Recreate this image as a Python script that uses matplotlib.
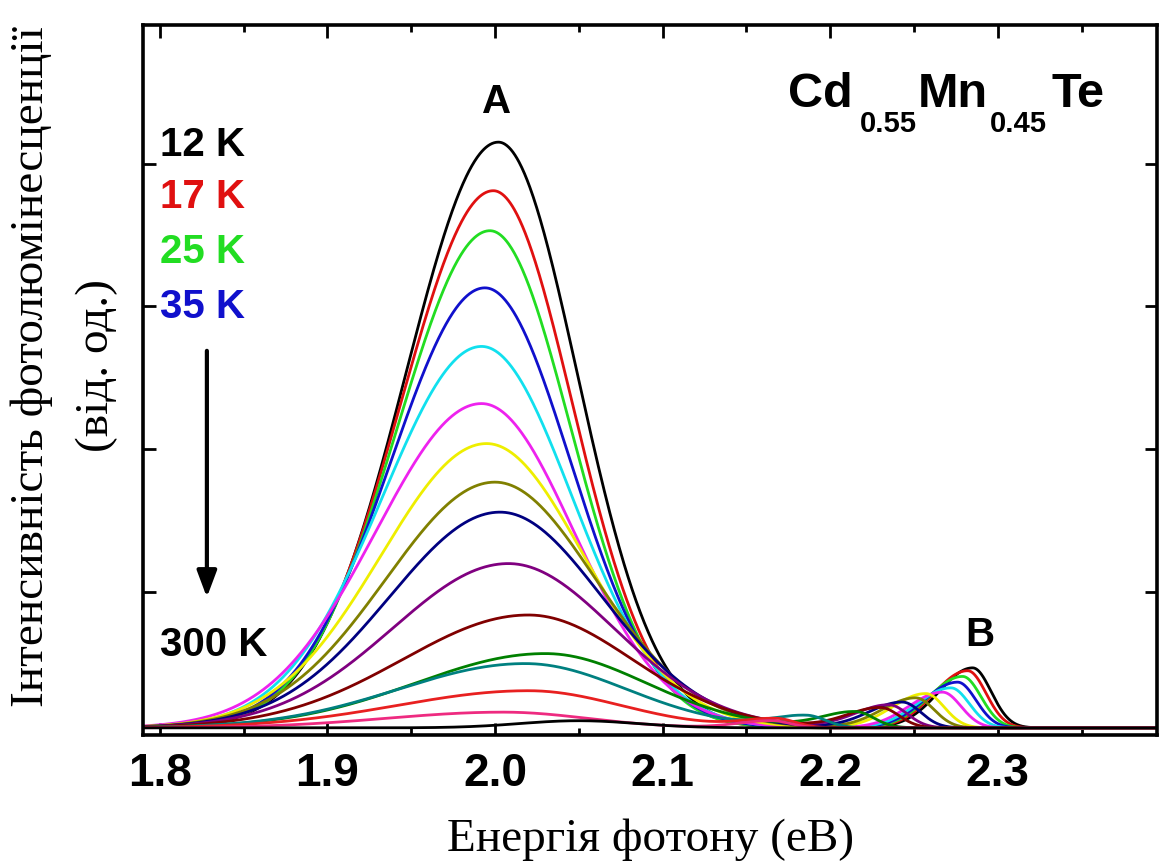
import numpy as np
import matplotlib.pyplot as plt

# PL spectra of Cd0.55Mn0.45Te, 12 K (first) ... 300 K (last)
temps = ['12 K', '17 K', '25 K', '35 K', '', '', '', '', '', '', '', '', '', '', '', '300 K']

# band A: position (eV), amplitude (a.u.), low/high energy half-widths (eV)
a_center = [2.002, 1.999, 1.997, 1.994, 1.992, 1.992, 1.995, 2.000, 2.003, 2.008,
            2.020, 2.030, 2.018, 2.020, 2.005, 2.050]
a_height = [4.10, 3.76, 3.48, 3.08, 2.67, 2.27, 1.99, 1.72, 1.51, 1.15,
            0.79, 0.52, 0.45, 0.26, 0.11, 0.05]
a_wlo = [0.055, 0.055, 0.055, 0.056, 0.059, 0.063, 0.063, 0.065, 0.066, 0.069,
         0.075, 0.077, 0.075, 0.078, 0.070, 0.035]
a_whi = [0.047, 0.047, 0.048, 0.051, 0.054, 0.055, 0.058, 0.060, 0.061, 0.063,
         0.062, 0.060, 0.060, 0.055, 0.050, 0.035]

# band B
b_center = [2.285, 2.282, 2.279, 2.276, 2.272, 2.267, 2.257, 2.251, 2.243, 2.235,
            2.230, 2.215, 2.186, 2.168, 2.165, 2.200]
b_height = [0.42, 0.40, 0.36, 0.32, 0.28, 0.25, 0.24, 0.21, 0.18, 0.16,
            0.14, 0.11, 0.08, 0.06, 0.05, 0.00]

offset = 0.05

colors = ['#000000', '#e01010', '#22dd22', '#1010cc', '#11e0ee', '#ee22ee',
          '#eeee00', '#808000', '#000080', '#800080', '#800000', '#008000',
          '#008080', '#e82020', '#ee2a80', '#000000']


def band(e, c, h, wl, wr):
    w = np.where(e < c, wl, wr)
    return h * np.exp(-0.5 * ((e - c) / w) ** 2)


energy = np.linspace(1.79, 2.395, 1500)

fig = plt.figure(figsize=(11.63, 8.65), dpi=100)
ax = fig.add_axes([143 / 1163, 1 - 735 / 865, 1014 / 1163, 710 / 865])

for i in range(len(a_center)):
    spec = (offset
            + band(energy, a_center[i], a_height[i], a_wlo[i], a_whi[i])
            + band(energy, b_center[i], b_height[i], 0.02, 0.011))
    ax.plot(energy, spec, color=colors[i], lw=2.0)

ax.set_xlim(1.79, 2.395)
ax.set_ylim(0, 4.97)
ax.set_xticks([1.8, 1.9, 2.0, 2.1, 2.2, 2.3])
ax.set_xticklabels(['1.8', '1.9', '2.0', '2.1', '2.2', '2.3'])
ax.set_xticks(np.arange(1.85, 2.39, 0.1), minor=True)
ax.set_yticks([1, 2, 3, 4])
ax.set_yticklabels([])
ax.tick_params(which='both', direction='in', top=True, right=True, width=2)
ax.tick_params(which='major', length=9, pad=12)
ax.tick_params(which='minor', length=5)
for lab in ax.get_xticklabels():
    lab.set_fontfamily('Liberation Sans')
    lab.set_fontweight('bold')
    lab.set_fontsize(33)
for s in ax.spines.values():
    s.set_linewidth(2.6)

bold = dict(family='Liberation Sans', weight='bold', fontsize=29)
ys = [0.831, 0.758, 0.680, 0.603]
for k in range(4):
    ax.text(0.017, ys[k], temps[k], color=colors[k], transform=ax.transAxes,
            va='center', ha='left', **bold)
ax.text(0.017, 0.127, temps[-1], color='black', transform=ax.transAxes,
        va='center', ha='left', **bold)
ax.annotate('', xy=(0.063, 0.19), xytext=(0.063, 0.545), xycoords='axes fraction',
            arrowprops=dict(arrowstyle='-|>,head_width=0.6,head_length=1.6',
                            color='black', lw=3))

ax.text(0.349, 0.892, 'A', transform=ax.transAxes, ha='center', va='center', **bold)
ax.text(0.825, 0.141, 'B', transform=ax.transAxes, ha='center', va='center', **bold)

# chemical formula, subscripts set below the baseline
big = dict(family='Liberation Sans', weight='bold', fontsize=35)
small = dict(family='Liberation Sans', weight='bold', fontsize=21)
t1 = ax.text(0.636, 0.885, 'Cd', transform=ax.transAxes, ha='left', va='baseline', **big)
t2 = ax.annotate('0.55', xy=(1, 0), xycoords=t1, xytext=(5, 5), textcoords='offset points',
                 ha='left', va='top', **small)
t3 = ax.annotate('Mn', xy=(1, 0), xycoords=(t2, t1), xytext=(1, 0),
                 textcoords='offset points', ha='left', va='bottom', **big)
t4 = ax.annotate('0.45', xy=(1, 0), xycoords=t3, xytext=(1, 5), textcoords='offset points',
                 ha='left', va='top', **small)
ax.annotate('Te', xy=(1, 0), xycoords=(t4, t1), xytext=(4, 0),
            textcoords='offset points', ha='left', va='bottom', **big)

serif = dict(family='Liberation Serif', fontsize=34)
fig.text(32 / 1163, 1 - 367 / 865, 'Інтенсивність фотолюмінесценції', rotation=90,
         ha='center', va='center', **serif)
fig.text(97 / 1163, 1 - 365 / 865, '(від. од.)', rotation=90,
         ha='center', va='center', **serif)
fig.text(651 / 1163, 1 - 840 / 865, 'Енергія фотону (еВ)', ha='center', va='center', **serif)

fig.savefig('out.png', dpi=100)
